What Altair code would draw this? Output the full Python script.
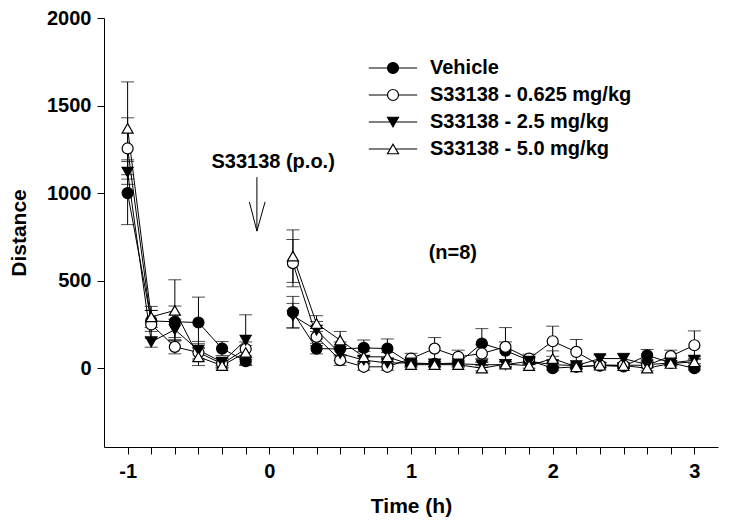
import altair as alt
import pandas as pd

# ---- data ----
t_min = [-60, -50, -40, -30, -20, -10,
         10, 20, 30, 40, 50, 60, 70, 80, 90, 100, 110, 120, 130, 140, 150, 160, 170, 180]

series_names = ["Vehicle", "S33138 - 0.625 mg/kg", "S33138 - 2.5 mg/kg", "S33138 - 5.0 mg/kg"]

vehicle_mean = [1000, 270, 265, 261, 112, 40,
                320, 112, 110, 116, 112, 25, 25, 30, 141, 100, 45, 0, 8, 15, 10, 74, 30, 0]
vehicle_sem = [180, 60, 90, 145, 40, 20,
               90, 30, 40, 45, 55, 15, 15, 15, 85, 50, 20, 10, 10, 10, 10, 33, 15, 10]

d0625_mean = [1255, 250, 122, 90, 25, 110,
              600, 179, 46, 8, 8, 55, 112, 65, 84, 122, 55, 154, 93, 17, 17, 17, 69, 131]
d0625_sem = [175, 80, 40, 50, 20, 40,
             135, 50, 30, 20, 20, 30, 63, 38, 50, 110, 25, 86, 71, 15, 15, 15, 34, 82]

d25_mean = [1120, 150, 220, 103, 35, 160,
            300, 217, 84, 46, 30, 30, 25, 25, 20, 20, 40, 20, 15, 55, 55, 20, 30, 46]
d25_sem = [70, 30, 60, 50, 20, 145,
           70, 50, 40, 20, 20, 15, 15, 15, 15, 15, 20, 15, 15, 20, 30, 15, 15, 20]

d50_mean = [1370, 293, 330, 65, 15, 90,
            640, 255, 160, 65, 65, 20, 20, 20, 0, 23, 15, 55, 8, 17, 15, 0, 27, 36]
d50_sem = [265, 60, 175, 50, 15, 40,
           150, 45, 50, 30, 25, 15, 15, 15, 15, 15, 15, 44, 15, 15, 15, 15, 15, 20]

marker_shapes = ["circle", "circle", "triangle-down", "triangle-up"]
marker_fills = ["black", "white", "black", "white"]
legend_strokes = ["black", "black", "black", "black"]
legend_paths = [
    "M-4.4,0H-1M1,0H4.4M1,0A1,1,0,1,1,-1,0A1,1,0,1,1,1,0Z",
    "M-4.4,0H-1M1,0H4.4M1,0A1,1,0,1,1,-1,0A1,1,0,1,1,1,0Z",
    "M-4.4,0H-0.5M0.5,0H4.4M-1,-0.866L1,-0.866L0,0.866Z",
    "M-4.4,0H-0.5M0.5,0H4.4M0,-0.866L1,0.866L-1,0.866Z",
]

# annotations
arrow_x = [-0.0876]
arrow_top = [1091]
arrow_tip = [783]
wing_x = [-0.1406, -0.0297]
wing_y = [950, 950]
note_text = ["S33138 (p.o.)", "(n=8)"]
note_x = [0.027, 1.295]
note_y = [1177, 657]

x_ticks = [k / 6 for k in range(-6, 19)]
y_ticks = [0, 500, 1000, 1500, 2000]

rows = []
for name, means, sems in zip(series_names,
                             [vehicle_mean, d0625_mean, d25_mean, d50_mean],
                             [vehicle_sem, d0625_sem, d25_sem, d50_sem]):
    for t, m, s in zip(t_min, means, sems):
        rows.append(dict(series=name, t=t / 60, mean=m, lo=m - s, hi=m + s,
                         seg="pre" if t < 0 else "post"))
df = pd.DataFrame(rows)

arrow_df = pd.DataFrame({"t": arrow_x, "mean": arrow_top, "mean2": arrow_tip})
wing_df = pd.DataFrame({"t": wing_x, "mean": wing_y,
                        "t2": [arrow_x[0]] * 2, "mean2": [arrow_tip[0]] * 2})
note_df = pd.DataFrame({"t": note_x, "mean": note_y, "label": note_text})

FONT = "Liberation Sans"

xscale = alt.Scale(domain=[-7 / 6, 19 / 6], nice=False, zero=False)
yscale = alt.Scale(domain=[-450, 2000], nice=False, zero=False)

xaxis = alt.Axis(values=x_ticks, title="Time (h)", grid=False, labelOverlap=False,
                 labelExpr="abs(datum.value - round(datum.value)) < 0.001 ? '' + round(datum.value) : ''",
                 labelPadding=7, titlePadding=14)
yaxis = alt.Axis(values=y_ticks, title="Distance", grid=False, format="d",
                 labelPadding=6, titlePadding=17)


def X(f):
    return alt.X(f"{f}:Q", scale=xscale, axis=xaxis)


def Y(f):
    return alt.Y(f"{f}:Q", scale=yscale, axis=yaxis)


leg = alt.Legend(orient="none", legendX=279, legendY=40, title=None,
                 labelFont=FONT, labelFontWeight="bold", labelFontSize=20, labelColor="black",
                 labelLimit=400, labelOffset=27, rowPadding=7, padding=0,
                 symbolStrokeWidth=1.2, symbolOpacity=1, symbolSize=121)

base = alt.Chart(df)

err = base.mark_rule(color="black", strokeWidth=1).encode(x=X("t"), y=Y("lo"), y2="hi:Q")
cap_hi = base.mark_tick(orient="horizontal", color="black", size=13, thickness=1).encode(x=X("t"), y=Y("hi"))
cap_lo = base.mark_tick(orient="horizontal", color="black", size=13, thickness=1).encode(x=X("t"), y=Y("lo"))

lines = base.mark_line(color="black", strokeWidth=1).encode(
    x=X("t"), y=Y("mean"), detail=["series:N", "seg:N"], order="t:Q")

points = base.mark_point(filled=True, stroke="black", strokeWidth=1.2, size=121, opacity=1).encode(
    x=X("t"), y=Y("mean"),
    shape=alt.Shape("series:N", scale=alt.Scale(domain=series_names, range=marker_shapes), legend=None),
    fill=alt.Fill("series:N", scale=alt.Scale(domain=series_names, range=marker_fills), legend=None),
)

legend_layer = base.mark_point(filled=False, strokeWidth=1.2, size=121, opacity=0).encode(
    x=X("t"), y=Y("mean"),
    shape=alt.Shape("series:N", scale=alt.Scale(domain=series_names, range=legend_paths), legend=leg),
    fill=alt.Fill("series:N", scale=alt.Scale(domain=series_names, range=marker_fills), legend=leg),
    stroke=alt.Stroke("series:N", scale=alt.Scale(domain=series_names, range=legend_strokes), legend=leg),
)

shaft = alt.Chart(arrow_df).mark_rule(color="black", strokeWidth=1).encode(
    x=X("t"), y=Y("mean"), y2="mean2:Q")
wings = alt.Chart(wing_df).mark_rule(color="black", strokeWidth=1).encode(
    x=X("t"), y=Y("mean"), x2="t2:Q", y2="mean2:Q")
notes = alt.Chart(note_df).mark_text(font=FONT, fontWeight="bold", fontSize=20, color="black",
                                     align="center", baseline="middle").encode(
    x=X("t"), y=Y("mean"), text="label:N")

chart = alt.layer(err, cap_hi, cap_lo, lines, points, legend_layer, shaft, wings, notes).resolve_scale(
    shape="independent", fill="independent", stroke="independent"
).properties(
    width=614, height=429,
    autosize=alt.AutoSizeParams(type="none"),
    padding={"left": 96, "top": 10, "right": 3, "bottom": 74},
).configure_view(stroke=None).configure_axis(
    domainColor="black", tickColor="black", domainWidth=1, tickWidth=1, tickSize=7,
    labelFont=FONT, labelFontWeight="bold", labelFontSize=20, labelColor="black",
    titleFont=FONT, titleFontWeight="bold", titleFontSize=21, titleColor="black",
)

chart.save("out.html", embed_options={"renderer": "svg", "actions": False})
